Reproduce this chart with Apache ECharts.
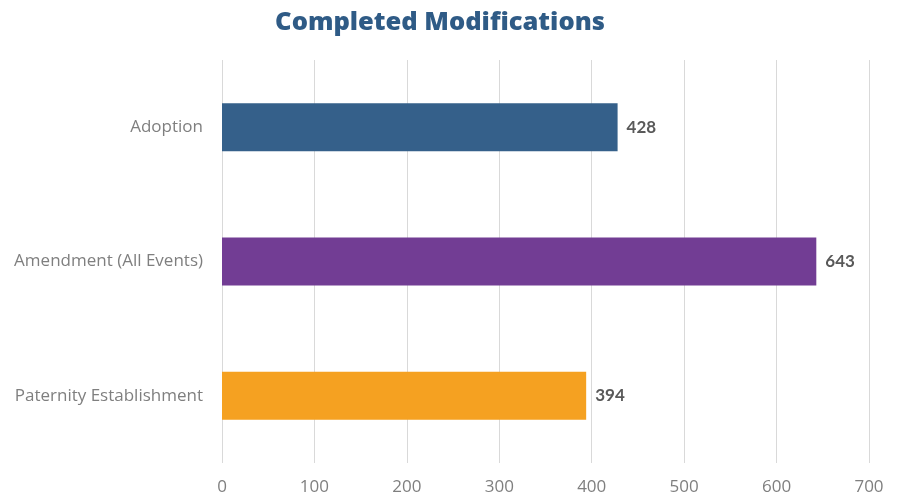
<!DOCTYPE html>
<html>
<head>
<meta charset="utf-8">
<script src="https://cdn.jsdelivr.net/npm/echarts@6/dist/echarts.min.js"></script>
<style>
  html, body { margin: 0; padding: 0; background: #ffffff; }
  #chart { width: 898px; height: 499px; }
</style>
</head>
<body>
<div id="chart"></div>
<script>
// Completed modifications by type
const categories = ['Adoption', 'Amendment (All Events)', 'Paternity Establishment'];
const counts = [428, 643, 394];
const barColors = ['#35608a', '#723d94', '#f5a121'];
const xTicks = [0, 100, 200, 300, 400, 500, 600, 700];

const chart = echarts.init(document.getElementById('chart'));
chart.setOption({
  animation: false,
  title: {
    text: 'Completed Modifications',
    left: 435,
    textAlign: 'center',
    top: 5,
    textStyle: { fontFamily: 'Open Sans', fontWeight: 800, fontSize: 25.5, color: '#2f5b86' }
  },
  grid: { left: 222, right: 29, top: 60, bottom: 36, containLabel: false },
  xAxis: {
    type: 'value',
    min: xTicks[0],
    max: xTicks[xTicks.length - 1],
    interval: 100,
    axisLine: { show: false },
    axisTick: { show: false },
    splitLine: { show: true, lineStyle: { color: '#d9d9d9', width: 1 } },
    axisLabel: { margin: 16, color: '#7f7f7f', fontFamily: 'Open Sans', fontSize: 17 }
  },
  yAxis: {
    type: 'category',
    inverse: true,
    data: categories,
    axisLine: { show: false },
    axisTick: { show: false },
    axisLabel: { margin: 19, color: '#7f7f7f', fontFamily: 'Open Sans', fontSize: 17 }
  },
  series: [{
    type: 'bar',
    barWidth: 48,
    data: counts.map((v, i) => ({ value: v, itemStyle: { color: barColors[i] } })),
    label: {
      show: true,
      position: 'right',
      distance: 9,
      color: '#595959',
      fontFamily: 'Lato',
      fontWeight: 'bold',
      fontSize: 17
    }
  }]
});
</script>
</body>
</html>
